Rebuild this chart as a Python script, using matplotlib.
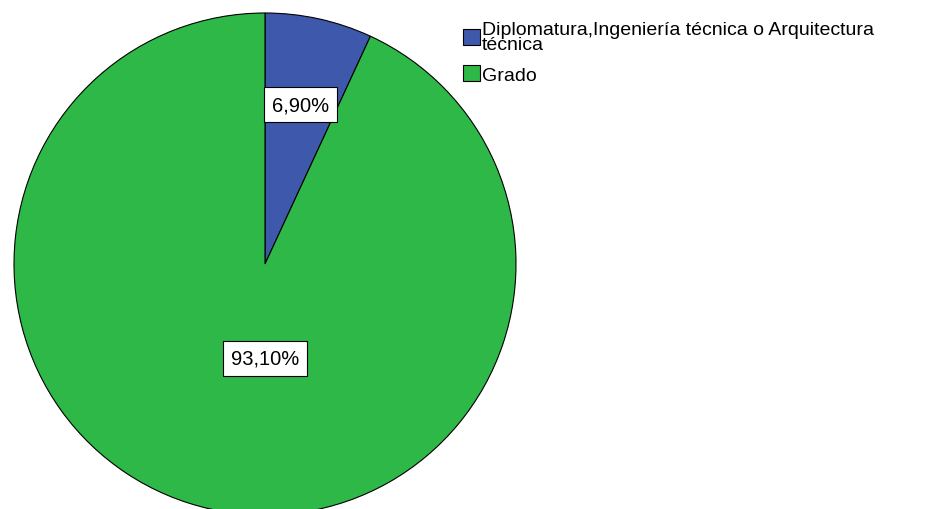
import numpy as np
import matplotlib.pyplot as plt

# data
labels = ["Diplomatura,Ingeniería técnica o Arquitectura\ntécnica", "Grado"]
values = [6.90, 93.10]
colors = ["#3E58AC", "#2EB848"]
pct_text = ["6,90%", "93,10%"]

plt.rcParams['font.family'] = ['Liberation Sans', 'DejaVu Sans']

fig = plt.figure(figsize=(9.26, 5.10), dpi=100)
# pie centred at (265, 265) px, radius ~251 px
ax = fig.add_axes([14 / 926, -6 / 510, 502 / 926, 502 / 510])
wedges, _ = ax.pie(values, colors=colors, startangle=90, counterclock=False,
                   radius=1.0, wedgeprops=dict(edgecolor="black", linewidth=0.8))
ax.set_xlim(-1, 1)
ax.set_ylim(-1, 1)
ax.set_aspect("equal")
ax.axis("off")

box = dict(boxstyle="square,pad=0.4", facecolor="white", edgecolor="black", linewidth=0.8)
# small slice label along its mid angle, big slice label near centre (SPSS style)
w = wedges[0]
mid = np.deg2rad((w.theta1 + w.theta2) / 2)
ax.text(0.655 * np.cos(mid), 0.65 * np.sin(mid), pct_text[0], ha="center", va="center",
        fontsize=14.5, bbox=box)
ax.text(0.0, -0.375, pct_text[1], ha="center", va="center", fontsize=14.5, bbox=box)

leg = ax.legend(wedges, labels, loc="upper left", bbox_to_anchor=(463 / 926, 1 - 22 / 510),
                bbox_transform=fig.transFigure, frameon=False, fontsize=14,
                handlelength=0.85, handleheight=0.85, handletextpad=0.12,
                borderpad=0, borderaxespad=0, labelspacing=0.6)
for t in leg.get_texts():
    t.set_linespacing(0.88)

fig.savefig("out.png", dpi=100)
